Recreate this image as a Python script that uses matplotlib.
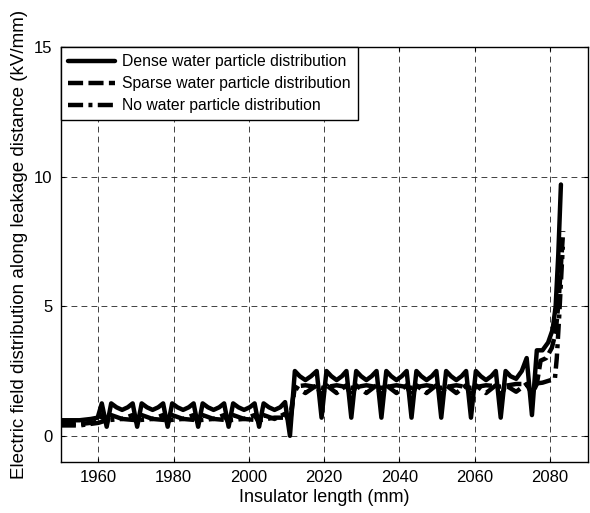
import matplotlib
matplotlib.use("Agg")
import matplotlib.pyplot as plt

plt.rcParams['font.family'] = ['Liberation Sans', 'DejaVu Sans']

# Dense water particle distribution
dense_x = [1950, 1955, 1958, 1959.8,
           1960.9, 1962.2, 1963.4, 1964.8, 1966.3, 1967.8, 1969.1,
           1970.3, 1971.5, 1972.9, 1974.4, 1975.9, 1977.2,
           1978.4, 1979.6, 1981.0, 1982.5, 1984.0, 1985.3,
           1986.5, 1987.7, 1989.1, 1990.6, 1992.1, 1993.4,
           1994.6, 1995.8, 1997.2, 1998.7, 2000.2, 2001.5,
           2002.7, 2003.9, 2005.3, 2006.8, 2008.3, 2009.6,
           2010.9, 2012.2, 2013.5, 2015.0, 2016.5, 2018.0,
           2019.3, 2020.6, 2021.9, 2023.3, 2024.7, 2025.9,
           2027.2, 2028.5, 2029.8, 2031.2, 2032.6, 2033.9,
           2035.2, 2036.5, 2037.8, 2039.2, 2040.6, 2041.9,
           2043.2, 2044.5, 2045.8, 2047.2, 2048.6, 2049.8,
           2051.1, 2052.4, 2053.7, 2055.1, 2056.5, 2057.7,
           2059.0, 2060.3, 2061.6, 2063.0, 2064.4, 2065.6,
           2066.9, 2068.2, 2069.5, 2071.0, 2072.5, 2073.8,
           2075.2, 2076.5, 2078.0, 2079.5, 2080.7, 2081.5, 2082.2, 2082.9]
dense_y = [0.6, 0.6, 0.65, 0.7,
           1.25, 0.35, 1.25, 1.1, 1.0, 1.1, 1.25,
           0.35, 1.25, 1.1, 1.0, 1.1, 1.25,
           0.35, 1.25, 1.1, 1.0, 1.1, 1.25,
           0.35, 1.25, 1.1, 1.0, 1.1, 1.25,
           0.35, 1.25, 1.1, 1.0, 1.1, 1.25,
           0.35, 1.25, 1.1, 1.0, 1.1, 1.3,
           0.0, 2.5, 2.3, 2.15, 2.3, 2.5,
           0.7, 2.5, 2.3, 2.15, 2.3, 2.5,
           0.7, 2.5, 2.3, 2.15, 2.3, 2.5,
           0.7, 2.5, 2.3, 2.15, 2.3, 2.5,
           0.7, 2.5, 2.3, 2.15, 2.3, 2.5,
           0.7, 2.5, 2.3, 2.15, 2.3, 2.5,
           0.7, 2.5, 2.3, 2.15, 2.3, 2.5,
           0.7, 2.5, 2.3, 2.2, 2.5, 3.0,
           0.8, 3.3, 3.3, 3.6, 4.1, 5.0, 7.0, 9.7]

# Sparse water particle distribution
sparse_x = [1950, 1955, 1958, 1960.0,
            1961.0, 1962.2, 1963.4, 1966.3, 1969.1,
            1970.3, 1971.5, 1974.4, 1977.2,
            1978.4, 1979.6, 1982.5, 1985.3,
            1986.5, 1987.7, 1990.6, 1993.4,
            1994.6, 1995.8, 1998.7, 2001.5,
            2002.7, 2003.9, 2006.8, 2009.6,
            2010.9, 2012.2, 2015.0, 2018.0,
            2019.3, 2020.6, 2023.3, 2025.9,
            2027.2, 2028.5, 2031.2, 2033.9,
            2035.2, 2036.5, 2039.2, 2041.9,
            2043.2, 2044.5, 2047.2, 2049.8,
            2051.1, 2052.4, 2055.1, 2057.7,
            2059.0, 2060.3, 2063.0, 2065.6,
            2066.9, 2068.2, 2071.0, 2073.8,
            2075.2, 2076.5, 2077.5, 2079.0, 2080.5, 2081.5, 2082.3, 2083.0, 2083.5]
sparse_y = [0.45, 0.45, 0.5, 0.55,
            0.8, 0.5, 0.8, 0.65, 0.8,
            0.5, 0.8, 0.65, 0.8,
            0.5, 0.8, 0.65, 0.8,
            0.5, 0.8, 0.65, 0.8,
            0.5, 0.8, 0.65, 0.8,
            0.5, 0.8, 0.65, 0.85,
            0.5, 1.9, 1.65, 1.95,
            1.5, 1.95, 1.65, 1.95,
            1.5, 1.95, 1.65, 1.95,
            1.5, 1.95, 1.65, 1.95,
            1.5, 1.95, 1.65, 1.95,
            1.5, 1.95, 1.65, 1.95,
            1.5, 1.95, 1.65, 1.95,
            1.5, 1.95, 1.7, 2.0,
            1.6, 2.0, 2.9, 3.0, 3.4, 4.0, 5.2, 6.8, 7.9]

# No water particle distribution
none_x = [1950, 1955, 1960, 1962.2, 1966.3, 1970.3, 1974.4, 1978.4, 1982.5,
          1986.5, 1990.6, 1994.6, 1998.7, 2002.7, 2006.8, 2010.9,
          2012.2, 2015.0, 2019.3, 2023.3, 2027.2, 2031.2, 2035.2, 2039.2,
          2043.2, 2047.2, 2051.1, 2055.1, 2059.0, 2063.0, 2066.9, 2071.0,
          2075.2, 2078.0, 2081.3, 2081.8, 2082.4, 2083.0, 2083.4]
none_y = [0.4, 0.4, 0.5, 0.6, 0.65, 0.6, 0.65, 0.6, 0.65,
          0.6, 0.65, 0.6, 0.65, 0.6, 0.7, 0.7,
          1.9, 1.95, 1.85, 1.95, 1.85, 1.95, 1.85, 1.95,
          1.85, 1.95, 1.85, 1.95, 1.85, 1.95, 1.9, 2.0,
          2.0, 2.05, 2.2, 3.0, 4.5, 6.2, 7.3]

labels = ["Dense water particle distribution",
          "Sparse water particle distribution",
          "No water particle distribution"]

x_ticks = [1960, 1980, 2000, 2020, 2040, 2060, 2080]
y_ticks = [0, 5, 10, 15]

fig = plt.figure(figsize=(5.90, 5.13), dpi=100)
ax = fig.add_axes([0.103, 0.100, 0.893, 0.808])

lw = 3.2
ax.plot(dense_x, dense_y, color='k', lw=lw, linestyle='-',
        solid_joinstyle='round', solid_capstyle='round',
        label=labels[0], zorder=3)
ax.plot(sparse_x, sparse_y, color='k', lw=lw, linestyle=(0, (3.4, 1.2)),
        dash_joinstyle='round', label=labels[1], zorder=3)
ax.plot(none_x, none_y, color='k', lw=lw, linestyle=(0, (3.4, 1.2, 0.9, 1.2)),
        dash_joinstyle='round', label=labels[2], zorder=3)

ax.set_xlim(1950, 2090)
ax.set_ylim(-1, 15)
ax.set_xticks(x_ticks)
ax.set_yticks(y_ticks)
ax.grid(True, color='#222222', lw=0.6, linestyle=(0, (7, 5)))
ax.tick_params(direction='in', top=True, right=True, length=3, width=0.8,
               labelsize=12, pad=6)
for s in ax.spines.values():
    s.set_linewidth(1.0)

ax.set_xlabel("Insulator length (mm)", fontsize=13, labelpad=3)
ax.set_ylabel("Electric field distribution along leakage distance (kV/mm)",
              fontsize=13.5)
ax.yaxis.set_label_coords(-0.062, 0.525)

leg = ax.legend(loc='upper left', borderaxespad=0, fontsize=11.3,
                handlelength=3.0, handletextpad=0.45, labelspacing=0.45,
                fancybox=False, framealpha=1, edgecolor='k', borderpad=0.45)
leg.get_frame().set_linewidth(1.0)

fig.savefig("out.png", dpi=100)
